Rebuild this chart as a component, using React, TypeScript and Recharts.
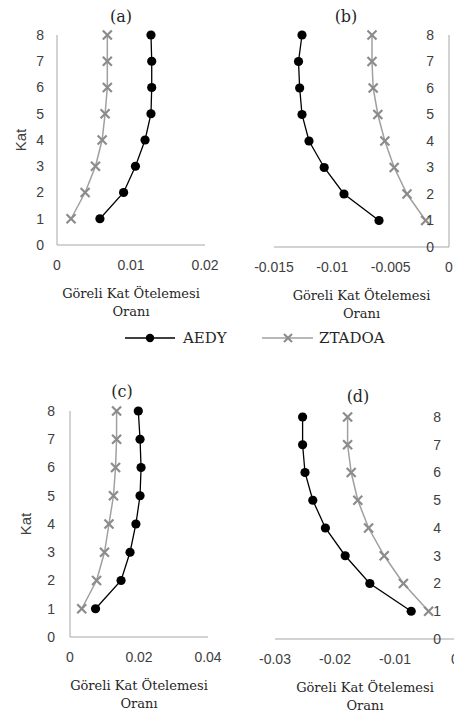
import { ScatterChart, Scatter, XAxis, YAxis, Label } from 'recharts'

const KAT = [1, 2, 3, 4, 5, 6, 7, 8]
const KAT_TICKS = [0, 1, 2, 3, 4, 5, 6, 7, 8]

const A_AEDY = [0.0058, 0.009, 0.0106, 0.0119, 0.0127, 0.0128, 0.0128, 0.0127]
const A_ZTADOA = [0.0019, 0.0038, 0.0052, 0.0061, 0.0065, 0.0068, 0.0068, 0.0068]
const A_TICKS = [0, 0.01, 0.02]

const B_AEDY = [-0.006, -0.009, -0.0107, -0.012, -0.0126, -0.0128, -0.0129, -0.0126]
const B_ZTADOA = [-0.002, -0.0036, -0.0047, -0.0055, -0.0061, -0.0065, -0.0066, -0.0066]
const B_TICKS = [-0.015, -0.01, -0.005, 0]

const C_AEDY = [0.0074, 0.0148, 0.0174, 0.0191, 0.0203, 0.0206, 0.0203, 0.0198]
const C_ZTADOA = [0.0034, 0.0077, 0.01, 0.0113, 0.0126, 0.0132, 0.0135, 0.0135]
const C_TICKS = [0, 0.02, 0.04]

const D_AEDY = [-0.0073, -0.0142, -0.0183, -0.0216, -0.0237, -0.025, -0.0254, -0.0254]
const D_ZTADOA = [-0.0044, -0.0086, -0.0118, -0.0144, -0.0162, -0.0173, -0.0179, -0.0179]
const D_TICKS = [-0.03, -0.02, -0.01, 0]

const SERIES = ['AEDY', 'ZTADOA']

const SANS = '"Liberation Sans", Arial, sans-serif'
const SERIF = '"DejaVu Serif", serif'
const AXIS = '#a6a6a6'
const TICK = '#404040'
const TEXT = '#262626'
const BLACK = '#000000'
const GREY = '#8c8c8c'
const GREY_LINE = '#a0a0a0'

const toPoints = (xs: number[]) => xs.map((x, i) => ({ x, y: KAT[i] }))

const Dot = (props: any) => <circle cx={props.cx} cy={props.cy} r={4.6} fill={BLACK} />

const Cross = (props: any) => {
  const { cx, cy } = props
  const s = 4.5
  return (
    <g stroke={GREY} strokeWidth={2.2}>
      <line x1={cx - s} y1={cy - s} x2={cx + s} y2={cy + s} />
      <line x1={cx - s} y1={cy + s} x2={cx + s} y2={cy - s} />
    </g>
  )
}

const XTitle = ({ viewBox }: any) => {
  const cx = viewBox.x + viewBox.width / 2
  return (
    <g fontFamily={SERIF} fontSize={13} fill={TEXT} textAnchor="middle">
      <text x={cx} y={viewBox.y + 53}>Göreli Kat Ötelemesi</text>
      <text x={cx} y={viewBox.y + 71}>Oranı</text>
    </g>
  )
}

type PanelProps = {
  title: string
  titleX: number
  titleY: number
  left: number
  top: number
  width: number
  height: number
  margin: { top: number; right: number; bottom: number; left: number }
  domain: [number, number]
  ticks: number[]
  aedy: number[]
  ztadoa: number[]
  side: 'left' | 'right'
  katOffset?: number
  yTickMargin: number
}

function Panel(p: PanelProps) {
  const KatTitle = ({ viewBox }: any) => {
    const x = viewBox.x + viewBox.width - (p.katOffset || 0)
    const y = viewBox.y + viewBox.height / 2
    return (
      <text
        x={x}
        y={y}
        transform={`rotate(-90, ${x}, ${y})`}
        textAnchor="middle"
        dominantBaseline="central"
        fontFamily={SANS}
        fontSize={15}
        fill={TICK}
      >
        Kat
      </text>
    )
  }

  // axes need a non-zero size to be drawn, so take 1px out of the margins
  const m = {
    top: p.margin.top,
    bottom: p.margin.bottom - 1,
    left: p.side === 'left' ? p.margin.left - 1 : p.margin.left,
    right: p.margin.right,
  }

  return (
    <>
      <div style={{ position: 'absolute', left: p.left, top: p.top }}>
        <ScatterChart width={p.width} height={p.height} margin={m}>
          <XAxis
            type="number"
            dataKey="x"
            domain={p.domain}
            ticks={p.ticks}
            interval={0}
            height={1}
            tickLine={false}
            tickSize={0}
            tickMargin={15}
            stroke={AXIS}
            tick={{ fill: TICK, fontSize: 14, fontFamily: SANS }}
            tickFormatter={(v: number) => String(v)}
          >
            <Label content={XTitle} />
          </XAxis>
          <YAxis
            type="number"
            dataKey="y"
            domain={[0, 8]}
            ticks={KAT_TICKS}
            interval={0}
            width={1}
            orientation={p.side}
            mirror={p.side === 'right'}
            tickLine={false}
            tickSize={0}
            tickMargin={p.yTickMargin}
            stroke={AXIS}
            tick={{ fill: TICK, fontSize: 14, fontFamily: SANS }}
          >
            {p.katOffset ? <Label content={KatTitle} /> : null}
          </YAxis>
          <Scatter
            name={SERIES[1]}
            data={toPoints(p.ztadoa)}
            line={{ stroke: GREY_LINE, strokeWidth: 1.5 }}
            shape={Cross}
            isAnimationActive={false}
          />
          <Scatter
            name={SERIES[0]}
            data={toPoints(p.aedy)}
            line={{ stroke: BLACK, strokeWidth: 1.3 }}
            shape={Dot}
            isAnimationActive={false}
          />
        </ScatterChart>
      </div>
      <div
        style={{
          position: 'absolute',
          left: p.titleX - 25,
          top: p.titleY - 11,
          width: 50,
          lineHeight: '22px',
          textAlign: 'center',
          fontFamily: SERIF,
          fontSize: 16,
          color: TEXT,
        }}
      >
        {p.title}
      </div>
    </>
  )
}

function LegendRow() {
  return (
    <svg style={{ position: 'absolute', left: 0, top: 326 }} width={454} height={24}>
      <g>
        <line x1={125} y1={12} x2={175} y2={12} stroke={BLACK} strokeWidth={1.5} />
        <circle cx={150} cy={12} r={4.2} fill={BLACK} />
        <text x={183} y={17} fontFamily={SERIF} fontSize={15} fill={TEXT}>
          {SERIES[0]}
        </text>
      </g>
      <g>
        <line x1={262} y1={12} x2={313} y2={12} stroke={GREY_LINE} strokeWidth={1.5} />
        <line x1={284} y1={8} x2={292} y2={16} stroke={GREY} strokeWidth={2.2} />
        <line x1={284} y1={16} x2={292} y2={8} stroke={GREY} strokeWidth={2.2} />
        <text x={319} y={17} fontFamily={SERIF} fontSize={15} fill={TEXT}>
          {SERIES[1]}
        </text>
      </g>
    </svg>
  )
}

export default function App() {
  return (
    <div
      style={{
        position: 'fixed',
        left: 0,
        top: 0,
        width: 454,
        height: 715,
        overflow: 'hidden',
        background: '#fff',
      }}
    >
      <Panel
        title="(a)"
        titleX={121}
        titleY={17}
        left={0}
        top={0}
        width={230}
        height={320}
        margin={{ top: 35, left: 57, right: 25, bottom: 75 }}
        domain={[0, 0.02]}
        ticks={A_TICKS}
        aedy={A_AEDY}
        ztadoa={A_ZTADOA}
        side="left"
        katOffset={37}
        yTickMargin={13}
      />
      <Panel
        title="(b)"
        titleX={346}
        titleY={17}
        left={225}
        top={0}
        width={229}
        height={320}
        margin={{ top: 35, left: 49, right: 5, bottom: 73 }}
        domain={[-0.015, 0]}
        ticks={B_TICKS}
        aedy={B_AEDY}
        ztadoa={B_ZTADOA}
        side="right"
        yTickMargin={15}
      />
      <LegendRow />
      <Panel
        title="(c)"
        titleX={122}
        titleY={392}
        left={0}
        top={340}
        width={230}
        height={375}
        margin={{ top: 71, left: 70, right: 22, bottom: 78 }}
        domain={[0, 0.04]}
        ticks={C_TICKS}
        aedy={C_AEDY}
        ztadoa={C_ZTADOA}
        side="left"
        katOffset={45}
        yTickMargin={15}
      />
      <Panel
        title="(d)"
        titleX={358}
        titleY={397}
        left={225}
        top={340}
        width={240}
        height={375}
        margin={{ top: 77, left: 50, right: 10, bottom: 76 }}
        domain={[-0.03, 0]}
        ticks={D_TICKS}
        aedy={D_AEDY}
        ztadoa={D_ZTADOA}
        side="right"
        yTickMargin={14}
      />
    </div>
  )
}
